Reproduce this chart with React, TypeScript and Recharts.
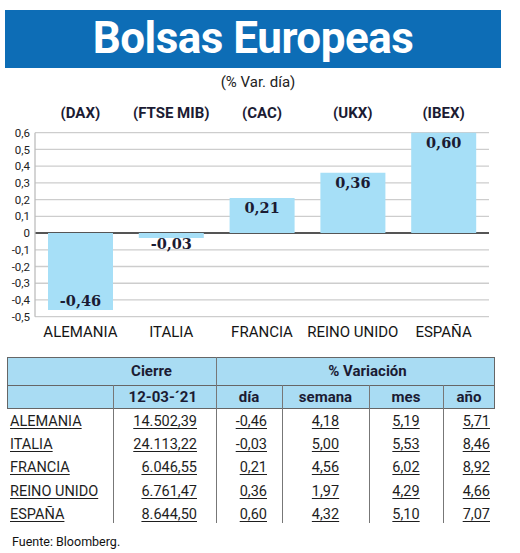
import React from 'react';
import { BarChart, Bar, XAxis, YAxis, CartesianGrid } from 'recharts';

const countries = ['ALEMANIA', 'ITALIA', 'FRANCIA', 'REINO UNIDO', 'ESPAÑA'];
const tickers = ['(DAX)', '(FTSE MIB)', '(CAC)', '(UKX)', '(IBEX)'];
const dayVar = [-0.46, -0.03, 0.21, 0.36, 0.6];
const closes = ['14.502,39', '24.113,22', '6.046,55', '6.761,47', '8.644,50'];
const weekVar = [4.18, 5.0, 4.56, 1.97, 4.32];
const monthVar = [5.19, 5.53, 6.02, 4.29, 5.1];
const yearVar = [5.71, 8.46, 8.92, 4.66, 7.07];
const yTicks = [-0.5, -0.4, -0.3, -0.2, -0.1, 0, 0.1, 0.2, 0.3, 0.4, 0.5, 0.6];
const zeroLine = [0];
const closeDate = '12-03-´21';

const chartData = countries.map((c, i) => ({ country: c, ticker: tickers[i], value: dayVar[i] }));

const comma = (v: number, d = 2) => v.toFixed(d).replace('.', ',');
const yFmt = (v: number) => (v === 0 ? '0' : String(Math.round(v * 10) / 10).replace('.', ','));

const SANS = 'Roboto, "Liberation Sans", sans-serif';
const SERIF = '"DejaVu Serif", "Liberation Serif", serif';
const NAVY = '#1b1b33';

const BarLabel = (props: any) => {
  const { x, y, width, height, value } = props;
  const top = Math.min(y, y + height);
  const bottom = Math.max(y, y + height);
  const h = bottom - top;
  let baseline;
  if (value >= 0) baseline = top + 15.5;
  else baseline = h > 30 ? bottom - 3.7 : bottom + 10.6;
  return (
    <text
      x={x + width / 2}
      y={baseline}
      textAnchor="middle"
      fontFamily={SERIF}
      fontWeight={700}
      fontSize={14.5}
      fill={NAVY}
    >
      {comma(value)}
    </text>
  );
};

const cols = [
  { left: 7, right: 113 },
  { left: 113, right: 216 },
  { left: 216, right: 282 },
  { left: 282, right: 369 },
  { left: 369, right: 443 },
  { left: 443, right: 495 },
];

const cellStyle = (left: number, width: number, top: number, height: number, align: string, pad: number): React.CSSProperties => ({
  position: 'absolute',
  left,
  top,
  width,
  height,
  lineHeight: `${height}px`,
  textAlign: align as any,
  paddingLeft: align === 'left' ? pad : 0,
  paddingRight: align === 'right' ? pad : 0,
  boxSizing: 'border-box',
  whiteSpace: 'nowrap',
});

export default function App() {
  const rowTop = 409;
  const rowH = 23.2;
  const rows = countries.map((c, i) => [c, closes[i], comma(dayVar[i]), comma(weekVar[i]), comma(monthVar[i]), comma(yearVar[i])]);
  const aligns = [
    { a: 'left', p: 3 },
    { a: 'right', p: 19 },
    { a: 'right', p: 15 },
    { a: 'center', p: 0 },
    { a: 'center', p: 0 },
    { a: 'right', p: 5 },
  ];
  return (
    <div style={{ position: 'absolute', left: 0, top: 0, width: 520, height: 553, background: '#fff', fontFamily: SANS, overflow: 'hidden' }}>
      <div
        style={{
          position: 'absolute', left: 5, top: 10, width: 496, height: 58, background: '#0d6db6', color: '#fff',
          fontWeight: 700, fontSize: 44, lineHeight: '56px', textAlign: 'center', letterSpacing: -0.5,
        }}
      >
        Bolsas Europeas
      </div>
      <div style={{ position: 'absolute', left: 0, top: 73, width: 516, textAlign: 'center', fontSize: 15, color: '#222' }}>
        (% Var. día)
      </div>

      <div style={{ position: 'absolute', left: 0, top: 100 }}>
        <BarChart width={520} height={250} data={chartData} margin={{ top: 0, right: 31, left: 0, bottom: 0 }} barCategoryGap="14%">
          <CartesianGrid vertical={false} stroke="#cdcdcd" strokeWidth={1.3} />
          <CartesianGrid vertical={false} horizontalValues={zeroLine} stroke="#555" strokeWidth={2} />
          <XAxis
            xAxisId="top"
            orientation="top"
            dataKey="ticker"
            height={32.7}
            tickSize={0}
            tickMargin={14.5}
            axisLine={false}
            tickLine={false}
            interval={0}
            tick={{ fontSize: 15, fontWeight: 700, fill: NAVY, fontFamily: SANS }}
          />
          <XAxis
            xAxisId="bottom"
            dataKey="country"
            height={33.3}
            tickSize={0}
            tickMargin={10}
            axisLine={false}
            tickLine={false}
            interval={0}
            tick={{ fontSize: 15, fill: '#151515', fontFamily: SANS }}
          />
          <YAxis
            width={35}
            domain={[-0.5, 0.6]}
            ticks={yTicks}
            interval={0}
            tickFormatter={yFmt}
            tickSize={0}
            tickMargin={5}
            tickLine={false}
            axisLine={{ stroke: '#bdbdbd', strokeWidth: 1.3 }}
            tick={{ fontSize: 11.5, fill: '#222', fontFamily: SANS }}
          />
          <Bar xAxisId="bottom" dataKey="value" fill="#a6dff7" barSize={65} isAnimationActive={false} label={<BarLabel />} />
        </BarChart>
      </div>

      {/* table header */}
      <div style={{ position: 'absolute', left: 7, top: 357, width: 488, height: 52, background: '#a9dcf3', border: '1px solid #666', boxSizing: 'border-box' }} />
      <div style={{ position: 'absolute', left: 7, top: 385, width: 488, height: 1, background: '#666' }} />
      <div style={{ position: 'absolute', left: 216, top: 357, width: 1, height: 166, background: '#777' }} />
      {[113, 282, 369, 443].map((x) => (
        <div key={x} style={{ position: 'absolute', left: x, top: 385, width: 1, height: 138, background: '#777' }} />
      ))}
      <div style={{ ...cellStyle(7, 209, 357, 28, 'center', 0), fontWeight: 700, fontSize: 15, color: NAVY, paddingLeft: 80 }}>Cierre</div>
      <div style={{ ...cellStyle(216, 279, 357, 28, 'center', 0), fontWeight: 700, fontSize: 15, color: NAVY, paddingLeft: 24 }}>% Variación</div>
      {['', closeDate, 'día', 'semana', 'mes', 'año'].map((t, i) => (
        <div
          key={i}
          style={{
            ...cellStyle(cols[i].left, cols[i].right - cols[i].left, 385, 24, i === 1 ? 'right' : 'center', i === 1 ? 19 : 0),
            fontWeight: 700, fontSize: 15, color: NAVY,
          }}
        >
          {t}
        </div>
      ))}
      {rows.map((r, ri) =>
        r.map((t, ci) => (
          <div
            key={`${ri}-${ci}`}
            style={{
              ...cellStyle(cols[ci].left, cols[ci].right - cols[ci].left, rowTop + ri * rowH, rowH, aligns[ci].a, aligns[ci].p),
              fontSize: 14.5, color: '#1e1e1e', lineHeight: `${rowH + 2}px`,
            }}
          >
            <span style={{ textDecoration: 'underline', textUnderlineOffset: 2, textDecorationThickness: 1 }}>{t}</span>
          </div>
        ))
      )}
      <div style={{ position: 'absolute', left: 12, top: 534, fontSize: 12.5, color: '#111' }}>Fuente: Bloomberg.</div>
    </div>
  );
}
